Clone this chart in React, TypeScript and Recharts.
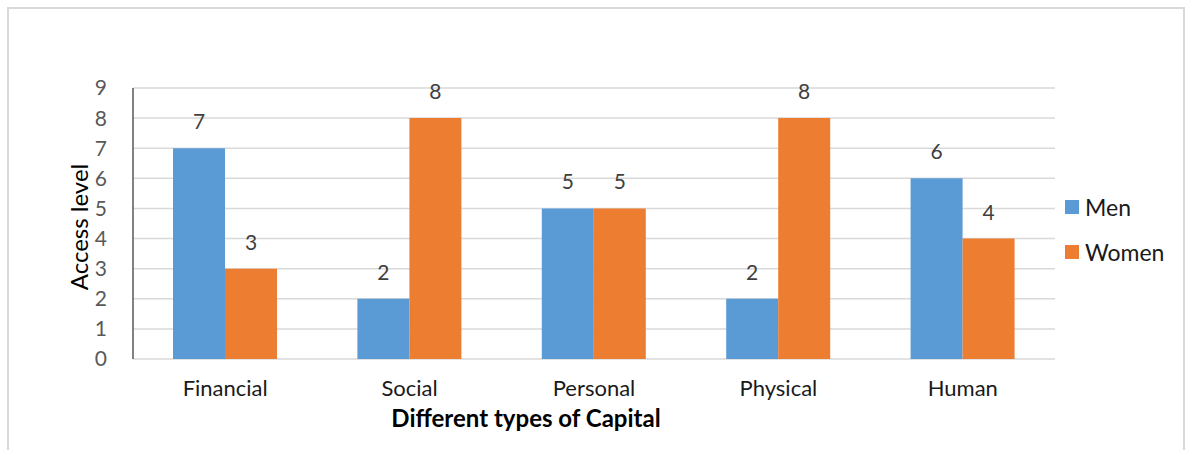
import { BarChart, Bar, XAxis, YAxis, CartesianGrid, LabelList, Label } from "recharts";

const categories = ["Financial", "Social", "Personal", "Physical", "Human"];
const men = [7, 2, 5, 2, 6];
const women = [3, 8, 5, 8, 4];
const yTicks = [0, 1, 2, 3, 4, 5, 6, 7, 8, 9];

const data = categories.map((c, i) => ({ name: c, Men: men[i], Women: women[i] }));

const FONT = "Lato, 'Open Sans', sans-serif";
const MEN = "#5b9bd5";
const WOMEN = "#ed7d31";

function LegendBox() {
  const items = [
    { label: "Men", color: MEN },
    { label: "Women", color: WOMEN },
  ];
  return (
    <div style={{ position: "absolute", left: 1065, top: 184, fontFamily: FONT, fontSize: 23, color: "#1a1a1a" }}>
      {items.map((it) => (
        <div key={it.label} style={{ display: "flex", alignItems: "center", height: 45 }}>
          <span style={{ width: 14, height: 14, background: it.color, marginRight: 6, display: "inline-block" }} />
          {it.label}
        </div>
      ))}
    </div>
  );
}

export default function App() {
  return (
    <div style={{ position: "absolute", left: 0, top: 0, width: 1189, height: 450, background: "#fff", overflow: "hidden" }}>
      <div style={{ position: "absolute", left: 7, top: 7, width: 1178, height: 460, border: "2px solid #d9d9d9", boxSizing: "border-box" }} />
      <BarChart
        width={1189}
        height={450}
        data={data}
        margin={{ top: 88, right: 134, bottom: 41, left: 0 }}
        barCategoryGap={40}
        barGap={0}
        style={{ position: "absolute", left: 0, top: 0 }}
      >
        <CartesianGrid vertical={false} stroke="#d9d9d9" strokeWidth={1.5} />
        <XAxis
          dataKey="name"
          height={50}
          axisLine={false}
          tickLine={false}
          tickSize={0}
          tickMargin={21}
          tick={{ fontFamily: FONT, fontSize: 22, fill: "#1a1a1a" }}
        >
          <Label
            content={() => (
              <text x={526} y={427} textAnchor="middle" fontFamily={FONT} fontSize={24} fontWeight="bold" fill="#000">
                Different types of Capital
              </text>
            )}
          />
        </XAxis>
        <YAxis
          width={133}
          domain={[0, 9]}
          ticks={yTicks}
          interval={0}
          axisLine={{ stroke: "#595959", strokeWidth: 1.5 }}
          tickLine={false}
          tickSize={0}
          tickMargin={26}
          tick={{ fontFamily: FONT, fontSize: 21, fill: "#595959" }}
        >
          <Label
            content={() => (
              <text
                x={78}
                y={227}
                transform="rotate(-90 78 227)"
                textAnchor="middle"
                dominantBaseline="central"
                fontFamily={FONT}
                fontSize={24}
                fill="#000"
              >
                Access level
              </text>
            )}
          />
        </YAxis>
        <Bar dataKey="Men" fill={MEN} isAnimationActive={false}>
          <LabelList dataKey="Men" position="top" offset={19} style={{ fontFamily: FONT, fontSize: 21, fill: "#404040" }} />
        </Bar>
        <Bar dataKey="Women" fill={WOMEN} isAnimationActive={false}>
          <LabelList dataKey="Women" position="top" offset={19} style={{ fontFamily: FONT, fontSize: 21, fill: "#404040" }} />
        </Bar>
      </BarChart>
      <LegendBox />
    </div>
  );
}
